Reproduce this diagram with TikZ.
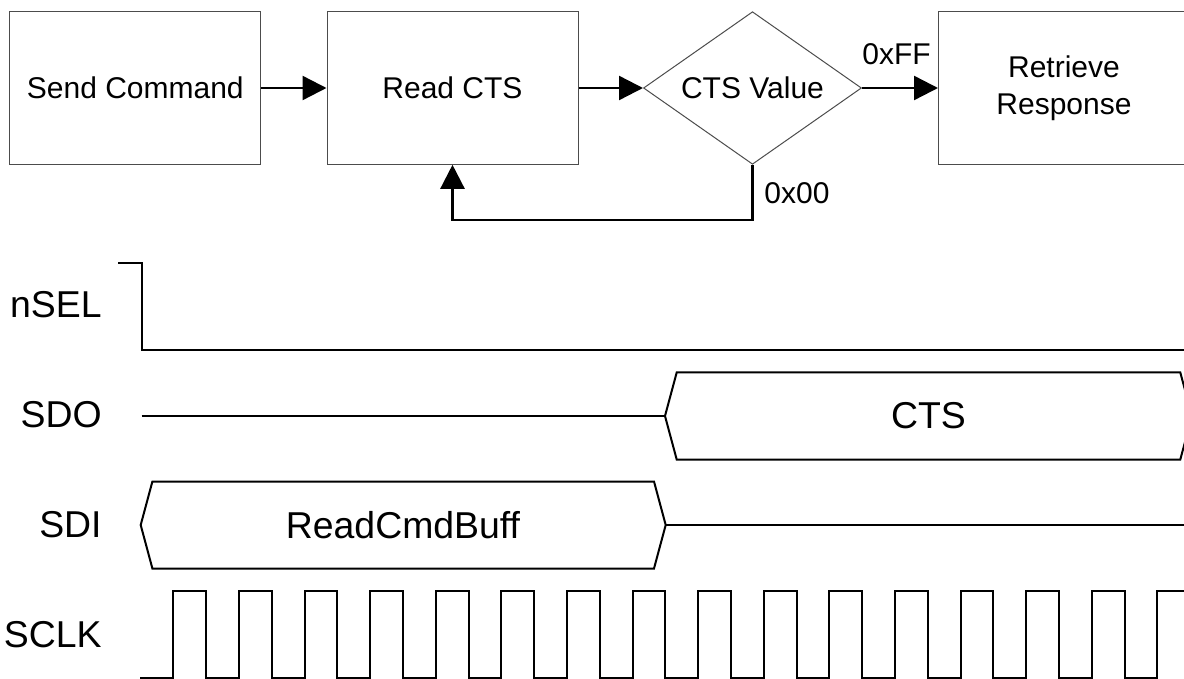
\documentclass[tikz,border=0pt]{standalone}
\usepackage{fontspec}
\setmainfont{Liberation Sans}
\usetikzlibrary{arrows.meta,shapes.geometric}

\begin{document}
\begin{tikzpicture}[x=0.5pt,y=-0.5pt,
    box/.style={draw=black!70, line width=0.5pt, minimum width=125.5pt, minimum height=76.3pt, inner sep=0pt, font=\fontsize{15}{18.3}\selectfont, align=center},
    choice/.style={diamond, draw=black!70, line width=0.5pt, minimum width=109pt, minimum height=76.3pt, aspect=1.43, inner sep=0pt, font=\fontsize{15}{18.3}\selectfont},
    arr/.style={line width=1.2pt, -{Triangle[length=12pt,width=12pt]}},
    flag/.style={font=\fontsize{15}{18}\selectfont, inner sep=0pt},
    sig/.style={font=\fontsize{18.7}{22}\selectfont, inner sep=0pt, anchor=base east},
    wave/.style={line width=1pt, line join=miter}]
    \useasboundingbox (0,0) rectangle (1184,679);
    \node[box] (send) at (135.3,88) {Send Command};
    \node[box] (read) at (452.5,88) {Read CTS};
    \node[choice] (value) at (752.5,88) {CTS Value};
    \node[box] (retr) at (1064,88) {Retrieve\\Response};
    \draw[arr] (send) -- (read);
    \draw[arr] (read) -- (value);
    \draw[arr] (value) -- (retr);
    \draw[arr] (value.south) -- ++(0,55) -| (read.south);
    \node[flag, anchor=base west] (ff) at (862,65) {0xFF};
    \node[flag, anchor=base west] (zero) at (764,204) {0x00};
    \node[sig] (nsel) at (102,318) {nSEL};
    \node[sig] (sdo) at (102,428) {SDO};
    \node[sig] (sdi) at (102,537) {SDI};
    \node[sig] (sclk) at (102,647) {SCLK};
    \draw[wave] (118,263.3) -- (141.7,263.3) -- (141.7,350) -- (1184,350);
    \draw[wave] (141.7,416) -- (665,416);
    \draw[wave] (665,416) -- (676.7,372.5) -- (1180.3,372.5) -- (1192,416) -- (1180.3,459.5) -- (676.7,459.5) -- cycle;
    \node[font=\fontsize{18.7}{22}\selectfont] (cts) at (928.5,416) {CTS};
    \draw[wave] (140.7,525) -- (152.4,481.5) -- (654,481.5) -- (665.7,525) -- (654,568.5) -- (152.4,568.5) -- cycle;
    \draw[wave] (665.7,525) -- (1184,525);
    \node[font=\fontsize{18.7}{22}\selectfont] (cmd) at (403,525) {ReadCmdBuff};
    \draw[wave] (140,678) \foreach \k in {0,...,15} { -- ({173.3+65.6*\k},678) -- ++(0,-87) -- ++(32.8,0) -- ++(0,87) };
\end{tikzpicture}
\end{document}
